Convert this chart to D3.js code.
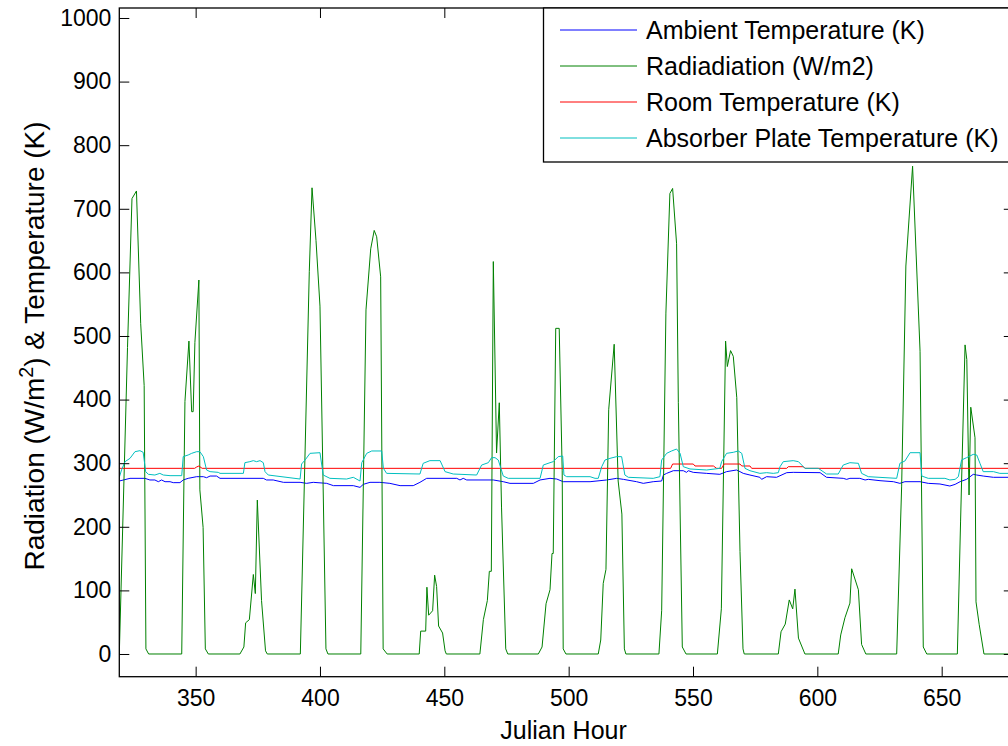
<!DOCTYPE html>
<html>
<head>
<meta charset="utf-8">
<script src="https://cdn.jsdelivr.net/npm/d3@7"></script>
<style>
  html, body { margin: 0; padding: 0; background: #fff; }
  svg { display: block; font-family: "Liberation Sans", Arial, Helvetica, sans-serif; }
</style>
</head>
<body>
<svg id="chart" width="1008" height="746"></svg>
<script>
// ---- data: [Julian hour, value] ----
const radiation = [
  [319.3,0],[322.6,482],[324.4,716],[326.2,728],[327.9,520],[329.3,422],[330.0,8],[331.1,0],
  [344.4,0],[345.7,397],[347.3,492],[348.4,381],[349.0,381],[349.7,490],[351.3,588],[351.7,258],[353.0,199],[353.9,8],[355.1,0],
  [367.8,0],[369.4,11],[370.1,49],[371.6,54],[373.2,125],[374.0,95],[374.8,242],[376.5,84],[378.1,5],[378.8,0],
  [392.1,0],[395.7,601],[396.8,733],[398.4,650],[400.0,547],[402.4,8],[403.2,0],
  [416.4,0],[418.5,541],[420.4,637],[421.8,666],[422.8,656],[424.4,593],[425.4,8],[427.0,0],
  [439.9,0],[440.5,36],[442.5,36],[443.0,105],[443.7,61],[445.3,68],[446.1,124],[446.9,106],[447.7,44],[449.3,33],[450.3,5],[450.8,0],
  [464.3,0],[465.7,54],[467.3,84],[468.1,130],[468.9,130],[469.7,617],[471.0,316],[472.1,395],[473.0,231],[474.7,8],[475.5,0],
  [487.8,0],[489.3,11],[490.9,79],[492.5,101],[493.3,158],[493.8,158],[494.8,512],[496.2,512],[497.4,288],[497.8,8],[498.9,0],
  [511.9,0],[512.9,22],[513.9,111],[515.0,133],[516.1,384],[518.3,487],[519.9,272],[521.4,220],[522.4,8],[523.0,0],
  [536.3,0],[537.4,68],[539.1,536],[540.7,724],[541.8,732],[543.4,645],[544.1,395],[545.7,11],[547.2,0],
  [559.8,0],[561.4,71],[563.1,492],[563.8,452],[565.1,477],[566.2,468],[567.6,403],[568.9,161],[570.1,8],[570.6,0],
  [584.3,0],[585.4,35],[587.1,47],[588.7,85],[590.1,71],[591.0,102],[592.4,25],[595.0,0],
  [608.4,0],[609.4,30],[611.1,57],[613.1,80],[613.8,134],[616.5,101],[617.8,15],[619.5,0],
  [631.9,0],[633.9,264],[635.6,610],[638.3,767],[641.3,476],[642.6,11],[644.0,0],
  [656.3,0],[657.6,209],[659.4,486],[660.1,463],[661.0,250],[661.7,388],[663.4,340],[663.8,82],[665.1,46],[667.0,0],
  [679,0]
];

const ambientTemp = [
  [319.3,272.0],[323.6,276.2],[329.6,276.2],[331.6,273.6],[333.6,273.6],[335.0,270.9],[336.3,273.6],[337.7,270.9],
  [339.7,270.9],[341.0,269.4],[343.7,269.4],[345.0,273.6],[347.0,276.2],[350.4,278.8],[353.1,278.8],[354.4,277.2],
  [355.8,279.8],[358.4,279.8],[359.8,276.2],[377.2,276.2],[378.5,273.6],[381.2,273.6],[385.3,269.9],[392.0,269.9],
  [394.6,268.3],[397.3,269.9],[402.7,268.3],[405.4,264.7],[413.4,264.7],[416.1,262.0],[417.4,266.7],[420.1,269.9],
  [424.1,269.9],[428.1,268.3],[432.2,264.7],[437.5,264.7],[440.2,269.9],[442.9,276.2],[455.0,276.2],[456.3,273.6],
  [457.6,276.2],[459.0,273.6],[469.7,273.6],[473.7,270.9],[476.4,268.3],[485.8,268.3],[488.5,273.6],[492.5,276.2],
  [495.2,275.1],[497.8,270.9],[508.6,270.9],[515.3,273.6],[519.3,276.2],[522.0,274.6],[527.3,270.9],[530.0,268.3],
  [534.0,270.9],[537.4,272.0],[538.1,281.4],[539.4,284.0],[542.1,288.2],[546.1,288.2],[547.4,285.6],[548.1,288.2],
  [550.1,285.6],[555.5,284.0],[560.8,282.5],[563.5,286.7],[567.5,289.3],[568.9,286.7],[570.2,284.0],[572.9,281.4],
  [576.9,277.8],[577.6,274.6],[579.6,278.8],[583.6,277.8],[587.7,285.1],[590.3,285.6],[601.1,285.1],[603.7,277.8],
  [610.4,276.2],[611.8,274.6],[613.1,276.2],[617.1,276.2],[619.2,273.6],[620.5,274.6],[625.2,272.5],[630.6,270.9],
  [633.2,268.3],[635.2,270.9],[641.3,270.9],[644.6,268.3],[649.3,267.3],[653.3,264.1],[655.4,266.7],[657.4,270.9],
  [660.0,274.6],[662.7,282.5],[664.1,281.4],[666.7,279.8],[670.8,277.8],[679,277.8]
];

const roomTemp = [
  [319.3,291.9],[349.6,291.9],[350.4,294.0],[351.3,295.6],[352.6,291.9],[541.0,291.9],[541.8,298.7],[550.1,298.7],
  [550.8,295.6],[558.2,295.6],[559.5,291.9],[561.5,291.9],[562.5,298.7],[568.9,298.7],[569.6,295.6],[572.9,295.6],
  [573.6,291.9],[587.7,291.9],[588.3,294.5],[594.4,294.5],[595.0,291.9],[679,291.9]
];

const absorberTemp = [
  [319.3,277.8],[320.2,289.3],[321.6,302.4],[323.6,307.6],[325.6,318.1],[327.6,319.7],[328.9,317.1],[329.9,286.7],
  [331.0,282.5],[333.6,281.4],[335.6,284.0],[337.0,281.4],[339.7,280.4],[344.4,280.4],[345.0,310.3],[347.0,312.9],
  [348.4,315.5],[350.4,318.1],[351.7,318.1],[353.1,310.3],[354.4,289.3],[355.8,286.7],[359.1,285.6],[359.8,284.0],
  [369.2,284.0],[369.8,300.8],[371.8,302.4],[373.2,304.0],[374.5,302.4],[375.9,304.0],[377.2,300.8],[377.9,286.7],
  [379.2,281.4],[392.0,275.1],[392.6,298.7],[394.0,305.0],[396.0,315.5],[400.0,316.5],[401.3,281.4],[404.0,276.2],
  [410.7,275.1],[413.4,277.8],[416.1,272.0],[416.8,300.8],[418.8,315.5],[420.8,319.2],[424.8,319.2],[425.5,291.9],
  [426.8,284.0],[440.2,283.0],[441.5,299.8],[444.2,304.0],[448.3,304.0],[450.3,286.7],[453.6,283.0],[463.0,281.4],
  [465.0,297.1],[467.7,300.8],[469.0,308.7],[470.4,308.7],[471.7,305.0],[473.7,279.8],[475.7,276.2],[488.5,276.2],
  [489.8,297.1],[492.5,300.8],[493.8,302.4],[495.8,310.3],[497.6,311.3],[498.1,281.4],[499.2,278.8],[508.6,278.8],
  [510.6,276.2],[511.9,276.2],[513.3,294.5],[514.6,305.0],[516.6,307.6],[519.3,310.3],[521.3,310.3],[522.6,281.4],
  [524.0,277.8],[534.0,276.2],[536.7,278.8],[537.4,305.0],[539.4,315.5],[541.4,319.2],[543.4,322.3],[544.8,315.5],
  [546.1,294.5],[548.8,290.9],[555.5,289.3],[560.8,291.9],[561.5,302.4],[563.5,315.5],[566.2,317.1],[568.2,319.2],
  [569.6,315.5],[570.9,291.9],[572.9,288.2],[576.9,284.0],[579.6,285.1],[582.3,284.0],[584.3,285.1],[585.0,294.5],
  [586.3,302.4],[590.3,304.0],[592.4,302.4],[595.0,291.9],[600.4,291.9],[603.7,283.0],[608.4,283.0],[610.4,297.1],
  [613.1,300.8],[616.5,299.8],[617.8,284.0],[620.5,278.8],[631.9,276.2],[633.2,299.8],[635.2,303.4],[637.3,316.5],
  [641.3,316.5],[642.0,279.8],[644.6,276.2],[651.3,276.2],[653.3,273.6],[655.4,274.6],[656.7,278.8],[658.0,305.0],
  [660.0,308.7],[662.7,313.9],[664.1,312.9],[665.4,299.8],[666.7,286.7],[670.8,286.7],[673.4,284.0],[679,284.0]
];

const xTicks = [350, 400, 450, 500, 550, 600, 650];
const yTicks = [0, 100, 200, 300, 400, 500, 600, 700, 800, 900, 1000];
const seriesNames = [
  "Ambient Temperature (K)",
  "Radiadiation (W/m2)",
  "Room Temperature (K)",
  "Absorber Plate Temperature (K)"
];

// ---- layout and style ----
const xLimits = [319.3, 679];
const yLimits = [-35.7, 1015.7];
const box = { left: 119.3, top: 8, right: 1013.8, bottom: 676.7 };
const colors = ["#0000ff", "#008000", "#ff0000", "#00bfbf"];
const tickFont = 23, xTitleFont = 25, yTitleFont = 28, legendFont = 25;

const svg = d3.select("#chart");
const x = d3.scaleLinear().domain(xLimits).range([box.left, box.right]);
const y = d3.scaleLinear().domain(yLimits).range([box.bottom, box.top]);

svg.append("defs").append("clipPath").attr("id", "plotClip")
  .append("rect")
  .attr("x", box.left).attr("y", box.top)
  .attr("width", box.right - box.left).attr("height", box.bottom - box.top);

// series, in plotting order
const allSeries = [ambientTemp, radiation, roomTemp, absorberTemp];
const line = d3.line().x(d => x(d[0])).y(d => y(d[1]));
const plotG = svg.append("g").attr("clip-path", "url(#plotClip)");
allSeries.forEach((s, i) => {
  plotG.append("path")
    .datum(s)
    .attr("d", line)
    .attr("fill", "none")
    .attr("stroke", colors[i])
    .attr("stroke-width", 1)
    .attr("stroke-linejoin", "round");
});

// axes with inward ticks on all four sides
function styleAxis(g, withLabels) {
  g.select(".domain").remove();
  g.selectAll(".tick line").attr("stroke", "#000").attr("stroke-width", 1);
  g.selectAll(".tick text").attr("fill", "#000")
    .attr("font-size", tickFont)
    .attr("font-family", "'Liberation Sans', Arial, Helvetica, sans-serif");
  if (!withLabels) g.selectAll(".tick text").remove();
}
const plain = d3.format("d");

const gBottom = svg.append("g").attr("transform", `translate(0,${box.bottom})`)
  .call(d3.axisBottom(x).tickValues(xTicks).tickFormat(plain)
    .tickSizeInner(-10).tickSizeOuter(0).tickPadding(13));
styleAxis(gBottom, true);

const gTop = svg.append("g").attr("transform", `translate(0,${box.top})`)
  .call(d3.axisTop(x).tickValues(xTicks).tickSizeInner(-10).tickSizeOuter(0));
styleAxis(gTop, false);

const gLeft = svg.append("g").attr("transform", `translate(${box.left},0)`)
  .call(d3.axisLeft(y).tickValues(yTicks).tickFormat(plain)
    .tickSizeInner(-10).tickSizeOuter(0).tickPadding(8));
styleAxis(gLeft, true);

const gRight = svg.append("g").attr("transform", `translate(${box.right},0)`)
  .call(d3.axisRight(y).tickValues(yTicks).tickSizeInner(-10).tickSizeOuter(0));
styleAxis(gRight, false);

// axes box
svg.append("rect")
  .attr("x", box.left).attr("y", box.top)
  .attr("width", box.right - box.left).attr("height", box.bottom - box.top)
  .attr("fill", "none").attr("stroke", "#000").attr("stroke-width", 1.3);

// axis titles
svg.append("text")
  .attr("x", (box.left + box.right) / 2 - 3)
  .attr("y", 739)
  .attr("text-anchor", "middle")
  .attr("font-size", xTitleFont)
  .attr("fill", "#000")
  .text("Julian Hour");

const yTitle = svg.append("text")
  .attr("transform", `translate(44,346) rotate(-90)`)
  .attr("text-anchor", "middle")
  .attr("font-size", yTitleFont)
  .attr("fill", "#000");
yTitle.append("tspan").text("Radiation (W/m");
yTitle.append("tspan").attr("font-size", yTitleFont * 0.7).attr("dy", -11).text("2");
yTitle.append("tspan").attr("dy", 11).text(") & Temperature (K)");

// legend
const legend = svg.append("g");
legend.append("rect")
  .attr("x", 543.5).attr("y", box.top)
  .attr("width", 480).attr("height", 154)
  .attr("fill", "#fff").attr("stroke", "#000").attr("stroke-width", 1.3);
seriesNames.forEach((name, i) => {
  const cy = 29.5 + i * 36.3;
  legend.append("line")
    .attr("x1", 560).attr("x2", 637).attr("y1", Math.round(cy)).attr("y2", Math.round(cy))
    .attr("stroke", colors[i]).attr("stroke-width", 1);
  legend.append("text")
    .attr("x", 646).attr("y", cy).attr("dy", "0.36em")
    .attr("font-size", legendFont).attr("fill", "#000")
    .text(name);
});
</script>
</body>
</html>
